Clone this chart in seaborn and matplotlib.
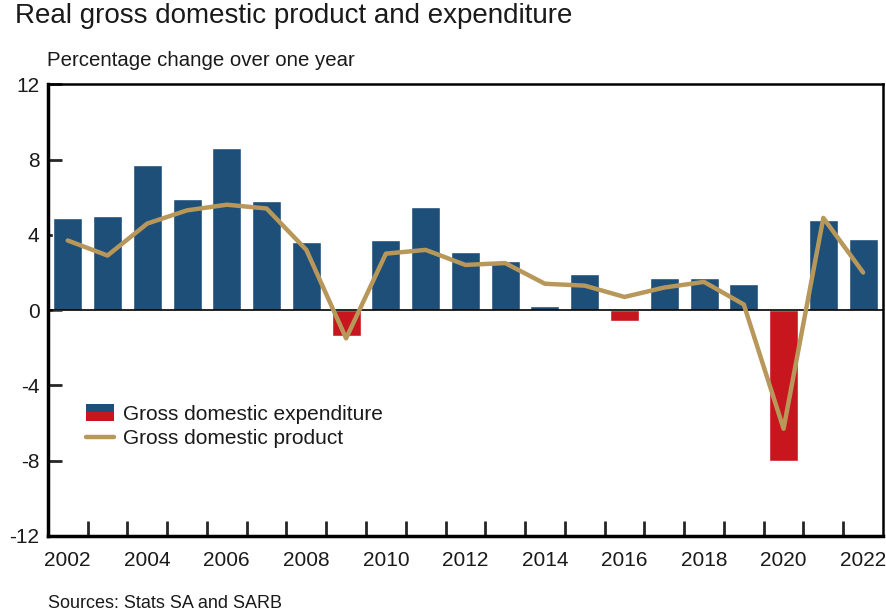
import numpy as np
import pandas as pd
import seaborn as sns
import matplotlib.pyplot as plt
from matplotlib.patches import Rectangle
from matplotlib.legend_handler import HandlerBase
from matplotlib.lines import Line2D

years = [str(y) for y in range(2002, 2023)]
gde = [4.9, 5.0, 7.7, 5.9, 8.6, 5.8, 3.6, -1.4, 3.7, 5.5, 3.1,
       2.6, 0.2, 1.9, -0.6, 1.7, 1.7, 1.4, -8.0, 4.8, 3.8]
gdp = [3.7, 2.9, 4.6, 5.3, 5.6, 5.4, 3.2, -1.5, 3.0, 3.2, 2.4,
       2.5, 1.4, 1.3, 0.7, 1.2, 1.5, 0.3, -6.3, 4.9, 2.0]

blue = '#1e4f79'
red = '#c8161e'
gold = '#b8975a'

df = pd.DataFrame({'year': years, 'gde': gde, 'gdp': gdp})
df['sign'] = np.where(df['gde'] < 0, 'neg', 'pos')

sns.set_style('white')
plt.rcParams['font.family'] = ['Liberation Sans', 'DejaVu Sans']
plt.rcParams['axes.unicode_minus'] = False
plt.rcParams['text.color'] = '#1a1a1a'

fig = plt.figure(figsize=(8.86, 6.15), dpi=100)
ax = fig.add_axes([0.054, 0.1285, 0.9426, 0.7345])

sns.barplot(data=df, x='year', y='gde', hue='sign', order=years,
            palette={'pos': blue, 'neg': red}, dodge=False, width=0.73,
            legend=False, ax=ax, saturation=1)
sns.lineplot(x=df.index, y=df['gdp'], color=gold, linewidth=3.2, ax=ax)

ax.axhline(0, color='black', linewidth=1.2, zorder=1.5)
ax.set_xlim(-0.5, len(years) - 0.5)
ax.set_ylim(-12, 12)
ax.set_xlabel('')
ax.set_ylabel('')

# y axis
ax.set_yticks(range(-12, 13, 4))
ax.set_yticklabels([str(v) for v in range(-12, 13, 4)])
ax.tick_params(axis='y', direction='in', length=10, width=2,
               labelsize=15, pad=6, left=True, labelcolor='#1a1a1a')

# x axis: labels under every other bar, ticks between bars
ax.set_xticks(range(0, len(years), 2))
ax.set_xticklabels(years[::2])
ax.set_xticks(np.arange(0.5, len(years) - 1, 1), minor=True)
ax.tick_params(axis='x', which='major', length=0, labelsize=15, pad=11,
               labelcolor='#1a1a1a')
ax.tick_params(axis='x', which='minor', direction='in', length=11,
               width=2, bottom=True)

for side in ['left', 'bottom']:
    ax.spines[side].set_linewidth(2.5)
for side in ['top', 'right']:
    ax.spines[side].set_linewidth(1.8)
for sp in ax.spines.values():
    sp.set_color('black')
    sp.set_visible(True)


class SplitPatchHandler(HandlerBase):
    def create_artists(self, legend, orig_handle, xdescent, ydescent,
                       width, height, fontsize, trans):
        top = Rectangle((-xdescent, -ydescent + height / 2), width, height / 2,
                        facecolor=blue, edgecolor='none', transform=trans)
        bottom = Rectangle((-xdescent, -ydescent), width, height / 2,
                           facecolor=red, edgecolor='none', transform=trans)
        return [top, bottom]


gde_handle = Rectangle((0, 0), 1, 1)
gdp_handle = Line2D([0], [0], color=gold, linewidth=3.2)
ax.legend([gde_handle, gdp_handle],
          ['Gross domestic expenditure', 'Gross domestic product'],
          handler_map={Rectangle: SplitPatchHandler()},
          loc='upper left', bbox_to_anchor=(0.046, 0.292), frameon=False,
          fontsize=15, handlelength=1.35, handleheight=0.85,
          handletextpad=0.4, labelspacing=0.25, borderaxespad=0,
          borderpad=0)

fig.text(15 / 886, 1 - 16 / 615, 'Real gross domestic product and expenditure',
         fontsize=20, va='center', ha='left')
fig.text(47 / 886, 1 - 60 / 615, 'Percentage change over one year',
         fontsize=14.7, va='center', ha='left')
fig.text(48 / 886, 1 - 604 / 615, 'Sources: Stats SA and SARB',
         fontsize=13, va='center', ha='left')

fig.savefig('out.png', dpi=100)
